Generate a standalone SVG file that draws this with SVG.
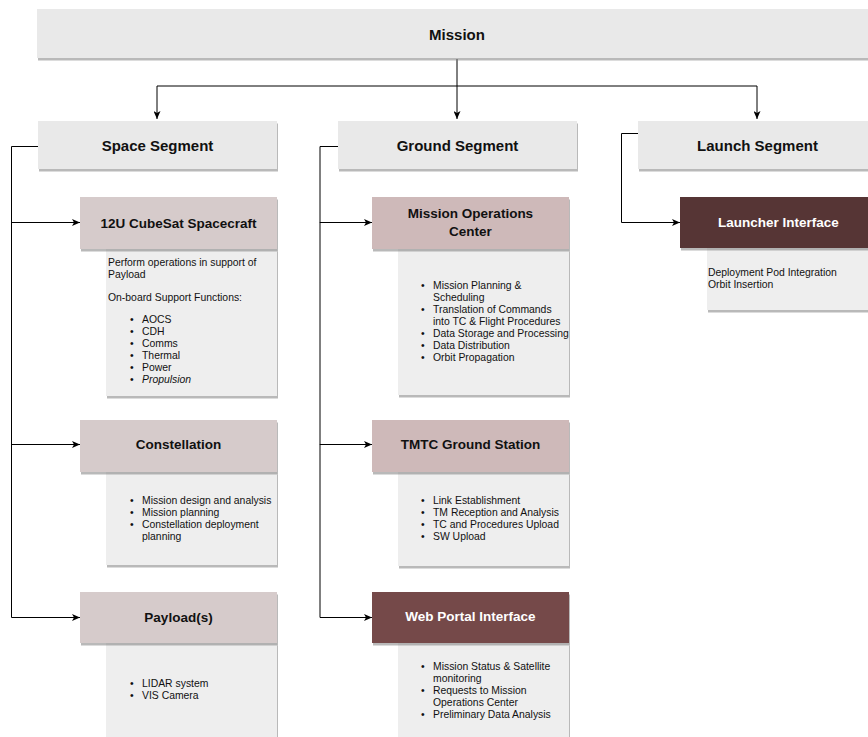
<svg xmlns="http://www.w3.org/2000/svg" width="868" height="737" viewBox="0 0 868 737">
<defs>
<filter id="sh" x="-5%" y="-10%" width="115%" height="130%">
<feDropShadow dx="1" dy="2.5" stdDeviation="0.7" flood-color="#808080" flood-opacity="0.55"/>
</filter>
<marker id="arr" markerUnits="userSpaceOnUse" markerWidth="8" markerHeight="7" viewBox="0 0 8 7" refX="8" refY="3.5" orient="auto">
<path d="M0,0 L8,3.5 L0,7 L2,3.5 z" fill="#000"/>
</marker>
<style>
.t{font-family:"Liberation Sans",Arial,Helvetica,sans-serif;fill:#111}
.seg{fill:#e9e9e9;filter:url(#sh)}
.hl{fill:#d6cbcb;filter:url(#sh)}
.hg{fill:#ceb9b9;filter:url(#sh)}
.body{fill:#eeeeee;filter:url(#sh)}
.h1{font-size:15px;font-weight:bold;text-anchor:middle}
.h2{font-size:13.5px;font-weight:bold;text-anchor:middle}
.b{font-size:10.4px}
.w{fill:#ffffff}
.ln{fill:none;stroke:#000;stroke-width:1}
</style>
</defs>

<g id="connectors">
<path class="ln" d="M457,59 V119" marker-end="url(#arr)"/>
<path class="ln" d="M457,86 H157 V119" marker-end="url(#arr)"/>
<path class="ln" d="M457,86 H757 V119" marker-end="url(#arr)"/>
<path class="ln" d="M38,146.5 H11.5 V222.5 H80" marker-end="url(#arr)"/>
<path class="ln" d="M11.5,222 V444.5 H80" marker-end="url(#arr)"/>
<path class="ln" d="M11.5,444 V617.5 H80" marker-end="url(#arr)"/>
<path class="ln" d="M338,146.5 H320 V222.5 H372" marker-end="url(#arr)"/>
<path class="ln" d="M320,222 V444.5 H372" marker-end="url(#arr)"/>
<path class="ln" d="M320,444 V617.5 H372" marker-end="url(#arr)"/>
<path class="ln" d="M638,133.5 H621.5 V222.5 H680" marker-end="url(#arr)"/>
</g>

<g id="mission">
<rect class="seg" x="37" y="9" width="840" height="49"/>
<text class="t h1" x="457" y="40">Mission</text>
</g>

<g id="space-segment">
<rect class="seg" x="38" y="121" width="239" height="48"/>
<text class="t h1" x="157.5" y="150.5">Space Segment</text>
</g>
<g id="ground-segment">
<rect class="seg" x="338" y="121" width="239" height="48"/>
<text class="t h1" x="457.5" y="150.5">Ground Segment</text>
</g>
<g id="launch-segment">
<rect class="seg" x="638" y="121" width="239" height="48"/>
<text class="t h1" x="757.5" y="150.5">Launch Segment</text>
</g>

<g id="cubesat">
<rect class="body" x="106" y="249" width="171" height="147"/>
<rect class="hl" x="80" y="197" width="197" height="52"/>
<text class="t h2" x="178.5" y="228">12U CubeSat Spacecraft</text>
<text class="t b" x="108" y="266">Perform operations in support of</text>
<text class="t b" x="108" y="278">Payload</text>
<text class="t b" x="108" y="301">On-board Support Functions:</text>
<g class="t b">
<text x="130" y="323">•</text><text x="142" y="323">AOCS</text>
<text x="130" y="335">•</text><text x="142" y="335">CDH</text>
<text x="130" y="347">•</text><text x="142" y="347">Comms</text>
<text x="130" y="359">•</text><text x="142" y="359">Thermal</text>
<text x="130" y="371">•</text><text x="142" y="371">Power</text>
<text x="130" y="383">•</text><text x="142" y="383" font-style="italic">Propulsion</text>
</g>
</g>

<g id="constellation">
<rect class="body" x="106" y="472" width="171" height="93"/>
<rect class="hl" x="80" y="420" width="197" height="52"/>
<text class="t h2" x="178.5" y="449">Constellation</text>
<g class="t b">
<text x="130" y="504">•</text><text x="142" y="504">Mission design and analysis</text>
<text x="130" y="516">•</text><text x="142" y="516">Mission planning</text>
<text x="130" y="528">•</text><text x="142" y="528">Constellation deployment</text>
<text x="142" y="540">planning</text>
</g>
</g>

<g id="payloads">
<rect class="body" x="106" y="643" width="171" height="100"/>
<rect class="hl" x="80" y="592" width="197" height="51"/>
<text class="t h2" x="178.5" y="622">Payload(s)</text>
<g class="t b">
<text x="130" y="687">•</text><text x="142" y="687">LIDAR system</text>
<text x="130" y="699">•</text><text x="142" y="699">VIS Camera</text>
</g>
</g>

<g id="moc">
<rect class="body" x="398" y="249" width="171" height="146"/>
<rect class="hg" x="372" y="197" width="197" height="52"/>
<text class="t h2" x="470.5" y="218">Mission Operations</text>
<text class="t h2" x="470.5" y="236">Center</text>
<g class="t b">
<text x="421" y="289">•</text><text x="433" y="289">Mission Planning &amp;</text>
<text x="433" y="301">Scheduling</text>
<text x="421" y="313">•</text><text x="433" y="313">Translation of Commands</text>
<text x="433" y="325">into TC &amp; Flight Procedures</text>
<text x="421" y="337">•</text><text x="433" y="337">Data Storage and Processing</text>
<text x="421" y="349">•</text><text x="433" y="349">Data Distribution</text>
<text x="421" y="361">•</text><text x="433" y="361">Orbit Propagation</text>
</g>
</g>

<g id="tmtc">
<rect class="body" x="398" y="472" width="171" height="94"/>
<rect class="hg" x="372" y="420" width="197" height="52"/>
<text class="t h2" x="470.5" y="449">TMTC Ground Station</text>
<g class="t b">
<text x="421" y="504">•</text><text x="433" y="504">Link Establishment</text>
<text x="421" y="516">•</text><text x="433" y="516">TM Reception and Analysis</text>
<text x="421" y="528">•</text><text x="433" y="528">TC and Procedures Upload</text>
<text x="421" y="540">•</text><text x="433" y="540">SW Upload</text>
</g>
</g>

<g id="web-portal">
<rect class="body" x="398" y="643" width="171" height="100"/>
<rect x="372" y="592" width="197" height="51" fill="#744a4a" filter="url(#sh)"/>
<text class="t h2 w" x="470.5" y="621">Web Portal Interface</text>
<g class="t b">
<text x="421" y="670">•</text><text x="433" y="670">Mission Status &amp; Satellite</text>
<text x="433" y="682">monitoring</text>
<text x="421" y="694">•</text><text x="433" y="694">Requests to Mission</text>
<text x="433" y="706">Operations Center</text>
<text x="421" y="718">•</text><text x="433" y="718">Preliminary Data Analysis</text>
</g>
</g>

<g id="launcher">
<rect class="body" x="707" y="248" width="171" height="62"/>
<rect x="680" y="197" width="197" height="51" fill="#563636" filter="url(#sh)"/>
<text class="t h2 w" x="778.5" y="227">Launcher Interface</text>
<text class="t b" x="708" y="276">Deployment Pod Integration</text>
<text class="t b" x="708" y="288">Orbit Insertion</text>
</g>
</svg>
